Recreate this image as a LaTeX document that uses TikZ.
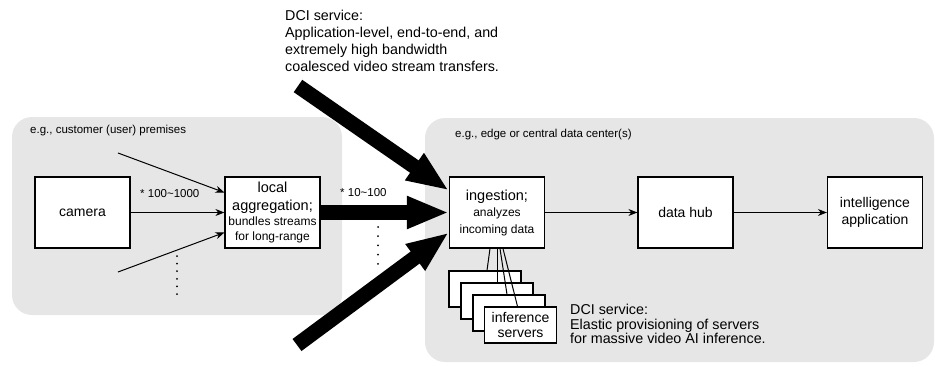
\documentclass[tikz,border=0pt]{standalone}
\usepackage{fontspec}
\setmainfont{Liberation Sans}
\usetikzlibrary{arrows.meta}
\definecolor{regionfill}{RGB}{230,230,230}
\tikzstyle{region}=[fill=regionfill, rounded corners=20pt]
\tikzstyle{box}=[draw, fill=white, line width=1.2pt, minimum width=95pt, minimum height=71pt, inner sep=1pt, align=center, font=\fontsize{14}{17}\selectfont]
\tikzstyle{srvbox}=[draw, fill=white, line width=1.2pt, minimum width=72pt, minimum height=36pt, inner sep=1pt, align=center, font=\fontsize{14}{15}\selectfont]
\tikzstyle{flow}=[line width=1pt, -{Stealth[length=9pt,width=7pt]}]
\tikzstyle{bulk}=[line width=15pt, -{Triangle[length=42pt,width=30pt]}]
\tikzstyle{link}=[line width=1pt]
\tikzstyle{note}=[inner sep=0pt, align=left]
\tikzstyle{small}=[font=\fontsize{11.5}{13}\selectfont]

\begin{document}
\begin{tikzpicture}[x=1pt, y=-1pt]
            \useasboundingbox (0,0) rectangle (935,367);
            \fill[region] (12,117) rectangle (342,315);
            \fill[region] (425,118) rectangle (934,362);
            \node[note, small, anchor=west] (premises) at (30,131) {e.g., customer (user) premises};
            \node[note, small, anchor=west] (datacenter) at (455,135) {e.g., edge or central data center(s)};

            \node[box] (camera) at (82.5,212.5) {camera};
            \node[box, font=\fontsize{12}{15}\selectfont] (agg) at (272.5,212.5)
                {{\fontsize{14.5}{15}\selectfont local}\\[3pt]{\fontsize{14.5}{15}\selectfont aggregation;}\\bundles streams\\for long-range};
            \node[box, font=\fontsize{12}{16.5}\selectfont] (ing) at (497,212.5)
                {{\fontsize{14.5}{16.5}\selectfont ingestion;}\\analyzes\\incoming data};
            \node[box] (hub) at (685.5,212.5) {data hub};
            \node[box] (app) at (875,212.5) {intelligence\\application};

            \coordinate (feedA) at (118,153);
            \coordinate (feedB) at (118,272);
            \draw[flow] (feedA) -- ([yshift=20pt]agg.west);
            \draw[flow] (camera) -- (agg);
            \draw[flow] (feedB) -- ([yshift=-20pt]agg.west);
            \node[note, small, anchor=west] (fanin) at (140,194) {* 100\textasciitilde1000};
            \foreach \k in {0,...,5}
                \fill (177,256+7.6*\k) circle (1pt);

            \coordinate (dciTop) at (298,86);
            \coordinate (dciBot) at (297,345);
            \draw[bulk] (agg) -- (ing);
            \draw[bulk] (dciTop) -- ([yshift=22pt]ing.west);
            \draw[bulk] (dciBot) -- ([yshift=-20pt]ing.west);
            \node[note, small, anchor=west] (fanout) at (340,193) {* 10\textasciitilde100};
            \foreach \k in {0,...,4}
                \fill (378,227+9.2*\k) circle (1pt);

            \draw[flow] (ing) -- (hub);
            \draw[flow] (hub) -- (app);

            \node[srvbox] (srv1) at (485,289) {};
            \node[srvbox] (srv2) at (497,301) {};
            \node[srvbox] (srv3) at (509,313) {};
            \node[srvbox] (srv4) at (520.5,325) {inference\\servers};
            \draw[link] ([xshift=-7pt]ing.south) -- ([xshift=2pt]srv1.north);
            \draw[link] (ing.south) -- (srv2.north);
            \draw[link] ([xshift=3pt]ing.south) -- ([xshift=-2pt]srv3.north);
            \draw[link] ([xshift=6pt]ing.south) -- ([xshift=-3pt]srv4.north);

            \node[note, anchor=north west, font=\fontsize{14.3}{17}\selectfont] (dciTransfer) at (285,10)
                {DCI service:\\Application-level, end-to-end, and\\extremely high bandwidth\\coalesced video stream transfers.};
            \node[note, anchor=north west, font=\fontsize{14.3}{14.7}\selectfont] (dciElastic) at (570,304)
                {DCI service:\\Elastic provisioning of servers\\for massive video AI inference.};
        \end{tikzpicture}
\end{document}
